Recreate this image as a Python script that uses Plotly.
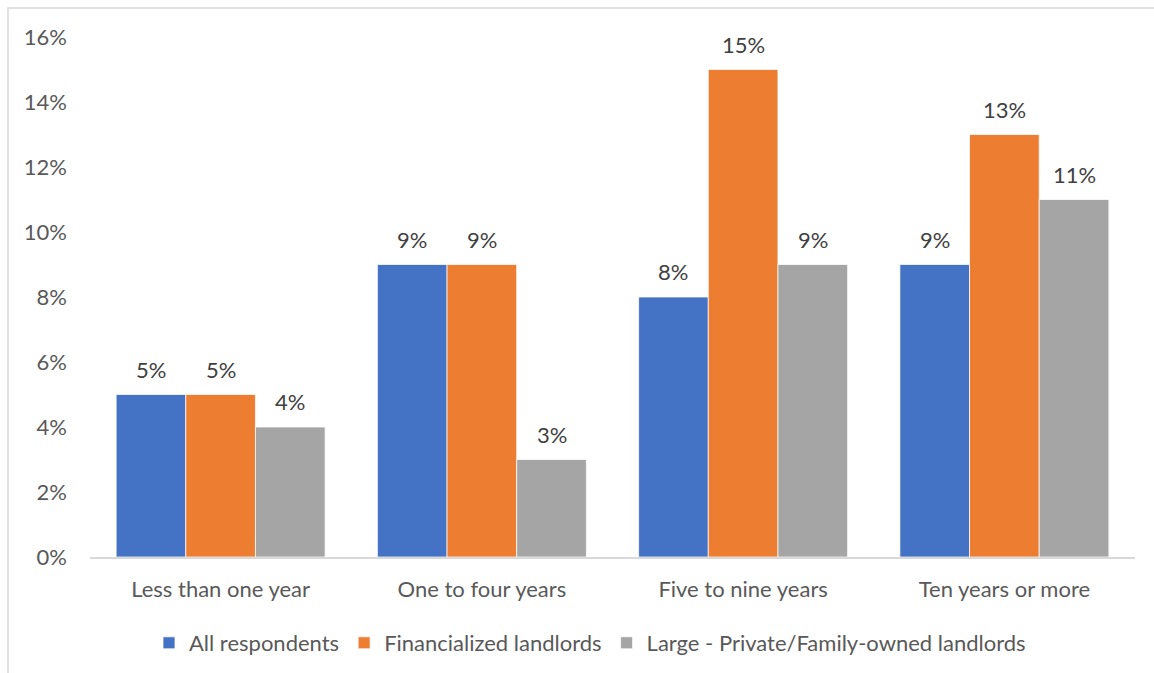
import plotly.graph_objects as go

categories = ["Less than one year", "One to four years", "Five to nine years", "Ten years or more"]
all_respondents = [5, 9, 8, 9]
financialized = [5, 9, 15, 13]
large_private = [4, 3, 9, 11]

series = [
    ("All respondents", all_respondents, "#4472C4"),
    ("Financialized landlords", financialized, "#ED7D31"),
    ("Large - Private/Family-owned landlords", large_private, "#A5A5A5"),
]

W, H = 1154, 673
L, R, T, B = 90, 19, 37, 116
pw, ph = W - L - R, H - T - B
BARGAP = 0.2
bar_px = pw / len(categories) * (1 - BARGAP) / len(series)

FONT = "Lato, Open Sans, sans-serif"
FS = 22

fig = go.Figure()
for i, (name, vals, color) in enumerate(series):
    fig.add_trace(go.Bar(
        x=categories, y=vals, name=name,
        marker=dict(color=color, line=dict(color="white", width=0.75)),
    ))
    # value labels above each bar
    for cat, v in zip(categories, vals):
        fig.add_annotation(x=cat, y=v, text=f"{v}%", showarrow=False,
                           xshift=(i - 1) * bar_px, yshift=10, yanchor="bottom",
                           font=dict(family=FONT, size=FS, color="#404040"))

# outer chart border
fig.add_shape(type="rect", xref="paper", yref="paper",
              x0=(8 - L) / pw, x1=(W + 20 - L) / pw,
              y0=(H - B - (H + 20)) / ph, y1=(H - B - 8) / ph,
              line=dict(color="#D9D9D9", width=1.5), fillcolor="rgba(0,0,0,0)", layer="below")

fig.update_layout(
    width=W, height=H,
    margin=dict(l=L, r=R, t=T, b=B, autoexpand=False),
    paper_bgcolor="white", plot_bgcolor="white",
    font=dict(family=FONT, color="#595959", size=FS),
    barmode="group", bargap=BARGAP, bargroupgap=0,
    legend=dict(orientation="h", x=(590 - L) / pw, xanchor="center", y=-0.125, yanchor="top",
                font=dict(family=FONT, size=FS, color="#595959"), itemwidth=30,
                traceorder="normal"),
    showlegend=True,
)
fig.update_xaxes(showline=True, linecolor="#D9D9D9", linewidth=2, ticks="", automargin=False,
                 tickfont=dict(family=FONT, size=FS, color="#595959"), showgrid=False,
                 ticklabelstandoff=12)
fig.update_yaxes(range=[0, 16], dtick=2, ticksuffix="%", showgrid=False, zeroline=False,
                 showline=False, automargin=False,
                 tickfont=dict(family=FONT, size=FS, color="#595959"),
                 ticklabelstandoff=22)

fig.write_html("out.html")
